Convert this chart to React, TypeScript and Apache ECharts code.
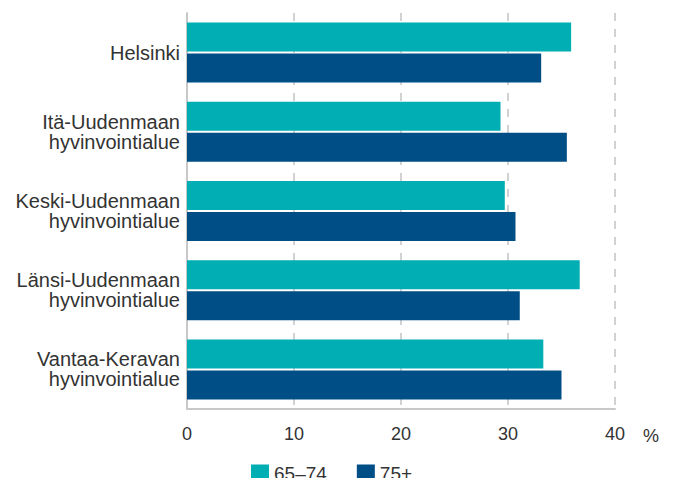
import React, { useEffect, useRef } from "react";
import * as echarts from "echarts";

// Share (%) by hyvinvointialue, two age groups
const regions = [
  "Helsinki",
  "Itä-Uudenmaan\nhyvinvointialue",
  "Keski-Uudenmaan\nhyvinvointialue",
  "Länsi-Uudenmaan\nhyvinvointialue",
  "Vantaa-Keravan\nhyvinvointialue",
];
const age65to74 = [35.9, 29.3, 29.7, 36.7, 33.3];
const age75plus = [33.1, 35.5, 30.7, 31.1, 35.0];
const seriesNames = ["65–74", "75+"];
const xTicks = { min: 0, max: 40, interval: 10 };

const FONT = "'Liberation Sans', Arial, sans-serif";
const TEXT = "#333333";
const TEAL = "#00AEB3";
const NAVY = "#004E86";

export default function App() {
  const ref = useRef<HTMLDivElement>(null);

  useEffect(() => {
    if (!ref.current) return;
    const chart = echarts.init(ref.current, null, { renderer: "svg" });
    chart.setOption({
      animation: false,
      textStyle: { fontFamily: FONT },
      grid: { left: 187, right: 62, top: 13, bottom: 77, containLabel: false },
      legend: {
        left: 251,
        top: 464,
        padding: 0,
        itemWidth: 18,
        itemHeight: 18,
        itemGap: 30,
        icon: "rect",
        data: seriesNames,
        textStyle: { fontSize: 19, color: TEXT, fontFamily: FONT },
      },
      xAxis: {
        type: "value",
        min: xTicks.min,
        max: xTicks.max,
        interval: xTicks.interval,
        axisLine: { show: true, lineStyle: { color: "#c8c8c8", width: 2 } },
        axisTick: { show: false },
        axisLabel: { fontSize: 18, color: TEXT, margin: 16, fontFamily: FONT },
        splitLine: {
          show: true,
          lineStyle: { color: "#d2d2d2", width: 2, type: [8, 8] },
        },
      },
      yAxis: {
        type: "category",
        data: regions,
        inverse: true,
        axisLine: { show: true, lineStyle: { color: "#c8c8c8", width: 2 } },
        axisTick: { show: false },
        axisLabel: {
          fontSize: 20,
          lineHeight: 20,
          color: TEXT,
          margin: 7,
          align: "right",
          fontFamily: FONT,
        },
        splitLine: { show: false },
      },
      graphic: [
        {
          type: "text",
          left: 643,
          top: 427,
          style: { text: "%", fontSize: 18, fill: TEXT, fontFamily: FONT },
        },
      ],
      series: [
        {
          name: seriesNames[0],
          type: "bar",
          data: age65to74,
          barWidth: 29,
          barGap: "7%",
          itemStyle: { color: TEAL },
        },
        {
          name: seriesNames[1],
          type: "bar",
          data: age75plus,
          barWidth: 29,
          barGap: "7%",
          itemStyle: { color: NAVY },
        },
      ],
    });
    return () => chart.dispose();
  }, []);

  return <div ref={ref} style={{ width: 677, height: 486, margin: -8 }} />;
}
